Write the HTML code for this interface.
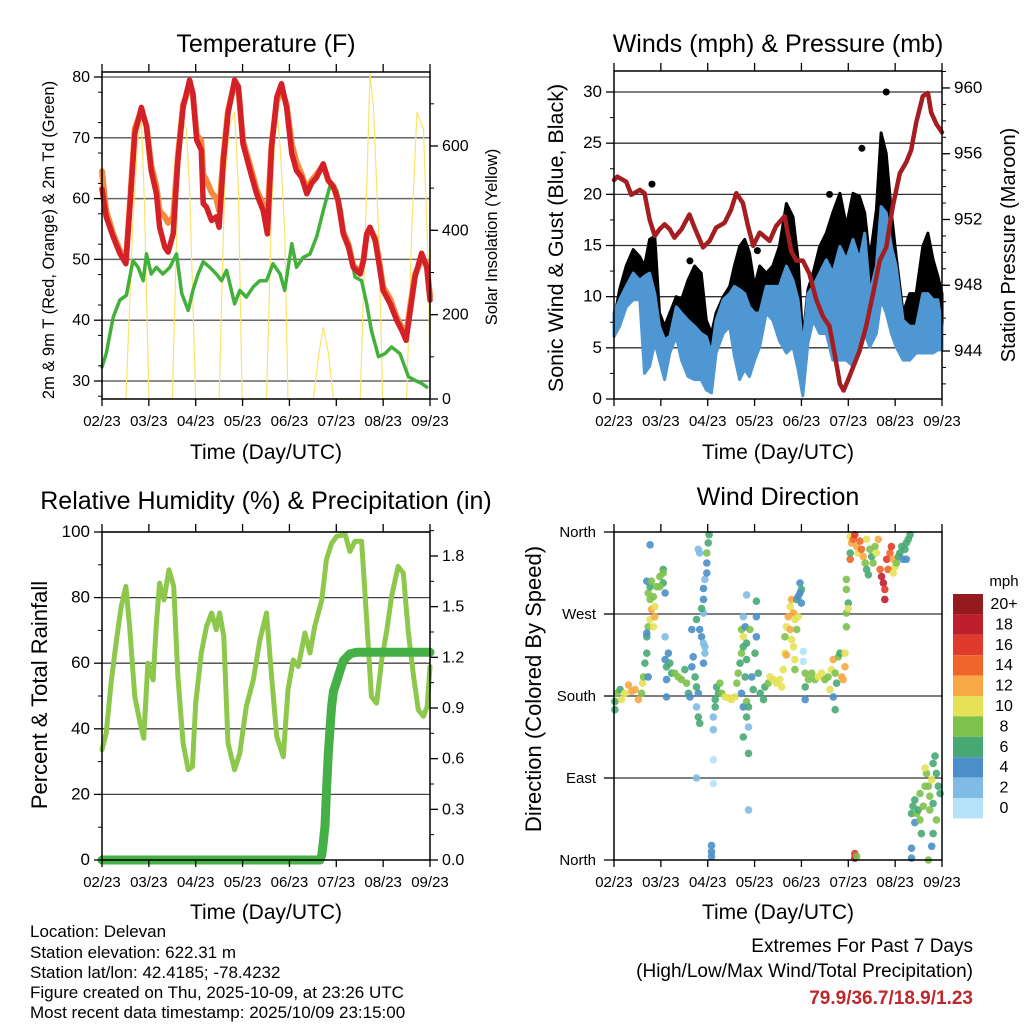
<!DOCTYPE html>
<html><head><meta charset="utf-8"><style>
html,body{margin:0;padding:0;background:#fff;}
svg{display:block;font-family:"Liberation Sans",sans-serif;}
</style></head><body>
<svg id="chart" width="1024" height="1024" viewBox="0 0 1024 1024" xmlns="http://www.w3.org/2000/svg">
<rect x="0" y="0" width="1024" height="1024" fill="#fff"/>
<g id="layer"></g>
<g font-size="25" text-anchor="middle" fill="#000">
<text x="266" y="52">Temperature (F)</text>
<text x="778" y="52">Winds (mph) &amp; Pressure (mb)</text>
<text x="266" y="509">Relative Humidity (%) &amp; Precipitation (in)</text>
<text x="778" y="505">Wind Direction</text>
</g>
<g font-size="21" text-anchor="middle">
<text x="266" y="459">Time (Day/UTC)</text>
<text x="778" y="459">Time (Day/UTC)</text>
<text x="266" y="919">Time (Day/UTC)</text>
<text x="778" y="919">Time (Day/UTC)</text>
<text transform="translate(54,240) rotate(-90)" font-size="16.5">2m &amp; 9m T (Red, Orange) &amp; 2m Td (Green)</text>
<text transform="translate(497,237) rotate(-90)" font-size="16.5">Solar Insolation (Yellow)</text>
<text transform="translate(563,238) rotate(-90)" font-size="21.5">Sonic Wind &amp; Gust (Blue, Black)</text>
<text transform="translate(1015,245) rotate(-90)" font-size="20">Station Pressure (Maroon)</text>
<text transform="translate(47,695) rotate(-90)" font-size="22">Percent &amp; Total Rainfall</text>
<text transform="translate(541,689) rotate(-90)" font-size="22">Direction (Colored By Speed)</text>
</g>
<g font-size="17">
<text x="30" y="937">Location: Delevan</text>
<text x="30" y="958">Station elevation: 622.31 m</text>
<text x="30" y="978">Station lat/lon: 42.4185; -78.4232</text>
<text x="30" y="998">Figure created on Thu, 2025-10-09, at 23:26 UTC</text>
<text x="30" y="1018">Most recent data timestamp: 2025/10/09 23:15:00</text>
</g>
<g text-anchor="end" font-size="19">
<text x="973" y="952">Extremes For Past 7 Days</text>
<text x="973" y="977">(High/Low/Max Wind/Total Precipitation)</text>
<text x="973" y="1004" fill="#c0272d" font-weight="bold">79.9/36.7/18.9/1.23</text>
</g>
</svg>
<script>
const xTickLabels=["02/23","03/23","04/23","05/23","06/23","07/23","08/23","09/23"];
const redTime=[0,0.09,0.24,0.38,0.51,0.59,0.70,0.84,0.95,1.05,1.16,1.23,1.34,1.41,1.52,1.62,1.73,1.87,1.94,2.02,2.12,2.16,2.23,2.34,2.44,2.50,2.59,2.69,2.83,2.91,3.01,3.16,3.30,3.44,3.53,3.62,3.73,3.83,3.94,4.05,4.15,4.26,4.37,4.47,4.58,4.72,4.83,4.94,5.04,5.15,5.26,5.36,5.51,5.58,5.65,5.72,5.83,5.90,6.00,6.15,6.29,6.40,6.49,6.57,6.68,6.82,6.93,7.0];
const redTemp=[61.6,57,53.7,51,49.3,58,70.7,75,71.8,64.6,60.8,55.3,52,51.2,54.2,66.3,75,79.5,77.3,69.6,68,59.2,58.6,56.4,57,55.3,66.3,74,79.5,78.4,69,64.6,60.8,58,54.2,68.5,76.7,78.9,75,67.4,64.6,63.5,60.8,62.5,63.5,65.7,63,61.9,59.7,54.2,52,48.7,47.6,49.8,54.2,55.3,53.1,49.8,44.9,42.7,40,38.3,36.7,41.1,47.1,51,48.7,43.3];
const orangeTemp=[64.5,58,54.2,51.5,49.8,58.5,71.5,74.5,72,65.5,62,58,57,56,57,67,75.5,78.5,77,70.5,69.5,64,63,61,60,58,67,74.5,79,78,69.5,65.5,61.5,59,57,69,76,78,75.5,69,66,64,61.5,63,64,65.5,63,62,59.5,54.5,52.5,49,48,50,54,55,53.5,50.5,45.5,43.5,40.5,38.8,37.5,42,47.5,50,49.5,44];
const dewTime=[0,0.09,0.24,0.38,0.52,0.66,0.77,0.88,0.95,1.05,1.16,1.30,1.45,1.59,1.70,1.84,1.94,2.05,2.16,2.30,2.44,2.55,2.66,2.83,2.94,3.08,3.23,3.37,3.51,3.65,3.80,3.90,4.05,4.15,4.29,4.44,4.58,4.72,4.86,5.01,5.11,5.19,5.29,5.40,5.54,5.65,5.75,5.90,6.04,6.18,6.36,6.54,6.68,6.82,6.93];
const dewTemp=[32.3,34.5,40.5,43.3,44.1,49.8,48.7,46.5,50.9,47.6,48.7,47.6,48.7,50.9,44.4,41.6,44.9,47.6,49.6,48.7,47.6,46.5,48.2,42.7,44.9,43.8,45.5,46.5,46.5,49.3,47.6,44.9,52.6,48.7,50.3,50.9,53.7,58,61.9,61.4,58,53.1,51.5,47.1,46.5,42.7,38.3,34,34.5,35.6,34.5,30.7,30.1,29.6,29];
const solarTime=[0,0.51,0.66,0.77,0.84,0.91,1.0,1.50,1.62,1.73,1.80,1.87,2.0,2.50,2.62,2.73,2.83,2.91,2.99,3.51,3.62,3.72,3.80,3.90,3.97,4.51,4.62,4.72,4.83,4.94,5.51,5.65,5.72,5.79,5.90,5.99,6.50,6.61,6.72,6.86,6.97,7.0];
const solarValue=[0,0,420,620,660,450,0,0,500,660,640,500,0,0,520,650,680,500,0,0,450,700,600,400,0,0,100,170,110,0,0,500,770,700,400,0,0,400,680,640,300,0];
const presTime=[0,0.07,0.26,0.37,0.55,0.65,0.76,0.87,0.97,1.08,1.19,1.29,1.44,1.61,1.72,1.90,2.04,2.18,2.36,2.50,2.61,2.75,2.86,2.97,3.11,3.32,3.46,3.64,3.78,3.89,4.03,4.17,4.32,4.46,4.60,4.71,4.82,4.90,4.99,5.10,5.24,5.38,5.53,5.67,5.81,5.95,6.10,6.24,6.34,6.45,6.59,6.70,6.77,6.88,7.0];
const presValue=[954.4,954.6,954.3,953.5,953.8,953.6,952,951,951.4,951.7,951.4,950.9,951.4,952.3,951.5,950.3,950.7,951.5,951.8,952.6,953.6,953,951.6,950.4,951.2,950.7,951.6,952.2,950.1,949.5,949.5,948.7,947.1,946.1,945.5,943.8,942,941.6,942.2,943,944,945.5,947.5,949.5,950.3,952.8,954.8,955.5,956.2,957.9,959.5,959.7,958.5,957.8,957.3];
const windTime=[0,0.12,0.26,0.41,0.55,0.65,0.76,0.87,0.97,1.08,1.19,1.33,1.44,1.58,1.72,1.86,1.97,2.08,2.18,2.33,2.47,2.57,2.68,2.79,2.89,3.00,3.11,3.25,3.39,3.53,3.68,3.82,3.93,4.03,4.14,4.25,4.39,4.53,4.67,4.82,4.96,5.10,5.24,5.35,5.46,5.60,5.70,5.81,5.92,6.02,6.17,6.31,6.45,6.59,6.70,6.81,6.91,7.0];
const windHigh=[8.4,9.7,11,12.3,11.6,12,12.3,10.3,7.1,5.8,6.1,9.0,8.4,7.7,7.1,6.4,6.1,4.5,7.7,9.7,10.3,11,10.7,10.3,9.0,8.4,8.4,11,11,11,13,11.6,9.7,5.1,10.3,11,12.3,13.6,12.3,14.9,13.6,15.6,13.6,16.2,10.3,13,18.8,18.2,14.9,13,7.7,7.1,7.1,10.3,10.3,9.7,9.7,7.1];
const windLow=[6.1,7.1,9.0,9.7,9.7,2.5,3.2,5.5,3.8,1.9,4.5,6.1,3.8,2.2,1.9,1.9,0.9,0.6,4.5,6.4,7.1,4.2,1.9,2.9,2.2,3.8,5.1,8.4,7.7,5.7,4.5,5.1,2.9,0.3,5.5,7.7,6.4,6.4,3.8,3.8,3.8,3.2,5.8,6.4,5.1,6.4,9.7,8.4,6.4,5.1,3.8,3.8,4.5,4.5,4.5,4.5,4.8,4.8];
const gustHigh=[7.7,10.7,13,14.6,13.9,13,15.6,15.9,8.4,7.1,8.4,10,9.7,11.6,13,12.3,7.7,6.4,8.4,10,11,13,14.9,15.6,14.3,11,13,12.3,13,14.9,19.1,17.8,13.6,5.8,10.7,12.3,14.9,16.2,18.2,20.1,16.9,20.1,19.8,18.2,13.6,18.5,26,24,18.2,14,8.4,10.3,10.3,14.9,16.2,13.6,12,10.3];
const gustOutlierTime=[0.81,4.60,5.29,5.81,1.62,3.06];
const gustOutlierValue=[21,20,24.5,30,13.5,14.5];
const rhTime=[0,0.09,0.20,0.31,0.41,0.51,0.59,0.70,0.80,0.89,0.98,1.09,1.16,1.23,1.32,1.43,1.53,1.62,1.73,1.84,1.93,2.00,2.12,2.23,2.34,2.44,2.51,2.60,2.69,2.83,2.94,3.08,3.23,3.37,3.51,3.62,3.73,3.87,3.97,4.08,4.19,4.33,4.44,4.54,4.69,4.79,4.90,5.01,5.19,5.29,5.40,5.54,5.65,5.75,5.86,5.97,6.08,6.18,6.32,6.43,6.54,6.65,6.75,6.86,6.94,7.0];
const rhValue=[33.6,38.7,54.9,67.1,77.3,83.4,71.2,49.8,42.7,37.1,60,54.9,72.2,84.4,79.3,88.5,83.4,55.9,35.6,27.5,28.5,47.8,63.1,71.2,75.3,70.2,75.3,68.2,35.6,27.5,32.6,46.8,54.9,67.1,75.3,55.9,37.6,31.5,51.9,61,59,69.2,63.1,71.2,79.3,91.6,96.6,98.7,99.2,94.1,97.2,97.2,73.2,49.8,47.8,61,70.2,80.4,89.5,87.5,69.2,55.9,45.8,43.8,46.8,59];
const precipTime=[0,4.65,4.69,4.72,4.76,4.79,4.83,4.86,4.90,4.94,5.01,5.08,5.15,5.29,5.43,7.0];
const precipValue=[0,0,0.03,0.1,0.2,0.4,0.63,0.75,0.91,1.0,1.06,1.12,1.18,1.22,1.23,1.23];
const speedBinLabels=["0","2","4","6","8","10","12","14","16","18","20+"];
const speedColors=["#b5e2f8","#80bbe5","#4a8fc8","#48a873","#7dc24b","#e6e157","#f8a845","#f0652a","#e03a2c","#bf1e2d","#941a1d"];
const windDirObs=[
[0.02,165,7],[0.02,174,6],[0.06,183,8],[0.13,187,7],[0.16,176,10],[0.23,183,10],[0.31,192,12],[0.38,185,12],[0.45,187,13],[0.52,176,12],[0.59,183,9],[0.61,194,10],[0.63,201,8],[0.66,216,6],[0.70,227,6],[0.70,245,6],[0.73,256,8],[0.77,264,10],[0.80,275,12],[0.84,256,11],[0.87,267,13],[0.77,286,8],[0.73,293,8],[0.77,300,6],[0.84,289,8],[0.91,300,8],[0.98,311,8],[1.05,319,7],[1.05,304,6],[1.09,293,5],[0.77,346,5],[0.73,201,4],[0.70,249,4],[0.70,306,5],[0.80,306,9],[0.87,278,11],[1.05,315,9],[0.98,300,9],
[1.09,245,3],[1.09,220,5],[1.12,212,6],[1.16,227,5],[1.19,216,7],[1.23,205,7],[1.12,198,5],[1.12,179,5],[1.30,205,8],[1.37,201,9],[1.44,198,8],[1.51,209,7],[1.55,194,8],[1.59,183,6],[1.62,179,5],[1.66,212,4],[1.66,253,5],[1.69,223,5],[1.73,201,7],[1.76,190,6],[1.76,168,3],[1.80,157,7],[1.83,150,6],[1.80,183,5],[1.76,264,7],[1.83,253,5],[1.87,245,4],[1.91,238,3],[1.94,234,2],[1.94,227,3],[1.91,216,4],[1.91,271,3],[1.91,286,5],[1.91,298,4],[1.94,308,2],[1.98,315,4],[1.98,326,5],[1.98,337,8],[2.01,348,6],[2.03,357,6],[1.80,341,2],[1.83,337,2],[1.87,276,7],[1.76,90,3],
[2.08,16,4],[2.08,9,4],[2.08,4,4],[2.12,157,3],[2.12,143,3],[2.12,110,1],[2.12,84,1],[2.16,168,6],[2.16,176,6],[2.19,190,7],[2.26,194,8],[2.23,183,6],[2.30,183,9],[2.37,179,10],[2.44,178,10],[2.51,176,10],[2.58,179,11],[2.62,194,8],[2.65,205,8],[2.69,216,7],[2.72,227,9],[2.76,234,6],[2.76,245,10],[2.72,253,8],[2.80,256,5],[2.83,238,7],[2.83,220,6],[2.80,201,6],[2.76,168,5],[2.83,174,8],[2.87,168,7],[2.83,157,6],[2.87,146,2],[2.76,135,6],[2.87,117,6],[2.90,253,9],[2.94,201,5],[2.97,187,6],[3.01,227,7],[3.04,245,4],[3.04,267,5],[3.04,284,6],[2.83,291,2],[2.76,267,2],[2.87,55,2],[2.72,183,4],
[3.08,205,7],[3.12,183,7],[3.19,176,6],[3.22,190,7],[3.29,194,8],[3.33,201,10],[3.40,198,10],[3.47,194,10],[3.54,198,10],[3.58,190,10],[3.61,209,10],[3.65,227,11],[3.65,245,9],[3.68,256,10],[3.72,267,12],[3.76,278,10],[3.79,286,12],[3.83,271,12],[3.86,264,11],[3.90,253,9],[3.93,267,10],[3.76,253,12],[3.79,242,11],[3.83,234,10],[3.86,220,10],[3.68,225,12],[3.90,286,6],[3.93,289,4],[3.97,304,4],[4.00,297,6],[4.00,282,4],[4.04,229,1],[4.04,218,1],[3.86,209,8],[3.97,293,4],
[4.08,205,8],[4.08,190,6],[4.08,176,4],[4.15,198,8],[4.22,205,8],[4.29,198,9],[4.36,201,10],[4.43,205,10],[4.50,198,9],[4.57,201,8],[4.61,187,10],[4.64,209,11],[4.68,220,12],[4.72,205,9],[4.75,194,6],[4.79,223,8],[4.82,227,7],[4.86,201,12],[4.89,198,12],[4.93,212,13],[4.93,227,11],[4.72,165,7],[4.96,256,8],[4.96,271,9],[5.00,282,7],[4.96,297,8],[4.96,308,8],[5.00,276,10],[4.68,179,4],
[5.04,355,11],[5.07,348,12],[5.11,352,14],[5.14,357,16],[5.18,344,13],[5.21,337,10],[5.25,350,14],[5.28,341,15],[5.32,333,12],[5.36,326,8],[5.39,319,7],[5.43,313,6],[5.39,352,11],[5.46,341,9],[5.50,333,7],[5.53,326,8],[5.57,344,9],[5.60,337,11],[5.64,352,13],[5.68,319,14],[5.71,311,18],[5.75,304,19],[5.78,297,17],[5.78,286,18],[5.82,330,16],[5.85,319,15],[5.89,337,14],[5.92,344,16],[5.96,330,13],[5.96,315,11],[6.00,322,10],[5.04,330,14],[5.14,7,16],[5.14,2,18],[5.18,4,9],[5.04,337,6],
[6.03,326,8],[6.07,333,7],[6.10,337,6],[6.14,344,6],[6.17,330,5],[6.21,341,7],[6.24,348,6],[6.28,352,6],[6.32,357,6],[6.24,330,4],[6.35,51,6],[6.38,59,6],[6.42,66,7],[6.42,41,5],[6.46,51,8],[6.49,55,7],[6.53,44,8],[6.56,29,6],[6.60,59,9],[6.64,81,8],[6.67,95,9],[6.64,101,10],[6.71,81,8],[6.74,70,9],[6.78,88,10],[6.81,106,6],[6.85,114,6],[6.88,95,7],[6.92,81,7],[6.96,73,6],[6.88,44,8],[6.81,29,6],[6.78,15,4],[6.71,0,8],[6.35,13,4],[6.35,2,4],[6.53,73,8],[6.74,55,9],[6.81,62,7]
];

const NS="http://www.w3.org/2000/svg";
const layer=document.getElementById('layer');
function mk(tag,parent){const e=document.createElementNS(NS,tag);(parent||layer).appendChild(e);return e;}
function xT(left,t){return left+t*(328/7);}
function yAxisFn(bottomPix,vBottom,pxPerUnit){return v=>bottomPix-(v-vBottom)*pxPerUnit;}
const yTemp=yAxisFn(381,30,6.08), ySolar=yAxisFn(399,0,0.4217);
const yWind=yAxisFn(399,0,10.233), yPres=yAxisFn(351,944,16.44);
const yRH=yAxisFn(860,0,3.28), yPrec=yAxisFn(860,0,168.9);
const yDir=yAxisFn(860,0,0.9111);

function polyline(times,vals,left,yf,color,w,name){
  const p=mk('polyline');
  p.setAttribute('points',times.map((t,i)=>xT(left,t).toFixed(1)+','+yf(vals[i]).toFixed(1)).join(' '));
  p.setAttribute('fill','none');p.setAttribute('stroke',color);p.setAttribute('stroke-width',w);
  p.setAttribute('stroke-linejoin','round');p.setAttribute('stroke-linecap','round');
  
  
  return p;
}
function band(times,lo,hi,left,yf,color,name){
  const p=mk('polygon');
  const a=times.map((t,i)=>xT(left,t).toFixed(1)+','+yf(hi[i]).toFixed(1));
  const b=times.map((t,i)=>xT(left,t).toFixed(1)+','+yf(lo[i]).toFixed(1)).reverse();
  p.setAttribute('points',a.concat(b).join(' '));
  p.setAttribute('fill',color);p.setAttribute('stroke',color);p.setAttribute('stroke-width','3');p.setAttribute('stroke-linejoin','round');
  
  
}
function hline(x0,x1,y,color,w){const l=mk('line');l.setAttribute('x1',x0);l.setAttribute('x2',x1);l.setAttribute('y1',y);l.setAttribute('y2',y);l.setAttribute('stroke',color);l.setAttribute('stroke-width',w);
  
  }
function seg(x1,y1,x2,y2,w){const l=mk('line');l.setAttribute('x1',x1);l.setAttribute('x2',x2);l.setAttribute('y1',y1);l.setAttribute('y2',y2);l.setAttribute('stroke','#000');l.setAttribute('stroke-width',w||1.3);
  
  }
function label(x,y,txt,anchor,size,name){const t=mk('text');t.setAttribute('x',x);t.setAttribute('y',y);t.setAttribute('text-anchor',anchor);t.setAttribute('font-size',size);t.textContent=txt;
  
  }
function frame(left,top,bottom){
  const r=mk('rect');r.setAttribute('x',left);r.setAttribute('y',top);r.setAttribute('width',328);r.setAttribute('height',bottom-top);r.setAttribute('fill','none');r.setAttribute('stroke','#000');r.setAttribute('stroke-width','1.5');
  
  
  for(let i=0;i<8;i++){const x=xT(left,i);seg(x,bottom,x,bottom+7);seg(x,top,x,top-8);
    label(x,bottom+27,xTickLabels[i],'middle',15,'x-tick-label');}
}
function yTicks(left,side,vals,yf,size,fmt,minorVals,name){
  const x=side==='l'?left:left+328,dir=side==='l'?-1:1;
  vals.forEach(v=>{const y=yf(v);seg(x,y,x+dir*8,y);label(x+dir*12,y+5,fmt(v),side==='l'?'end':'start',size,name);});
  (minorVals||[]).forEach(v=>{const y=yf(v);seg(x,y,x+dir*4,y,1);});
}
const range=(a,b,s)=>{const r=[];for(let v=a;v<=b+1e-9;v+=s)r.push(+v.toFixed(3));return r;};

// Panel 1
[30,40,50,60,70,80].forEach(v=>hline(102,430,yTemp(v),'#666',1.5));
polyline(solarTime,solarValue,102,ySolar,'#fbe36a',1.2,'solar-insolation-line');
polyline(dewTime,dewTemp,102,yTemp,'#44b03c',3.5,'dewpoint-line');
polyline(redTime,orangeTemp,102,yTemp,'#f58a3c',6,'temp-9m-line');
polyline(redTime,redTemp,102,yTemp,'#d42027',5.5,'temp-2m-line');
frame(102,72,399);
yTicks(102,'l',[30,40,50,60,70,80],yTemp,16,v=>v,range(27.5,80,5),'temp-y-tick-label');
yTicks(102,'r',[0,200,400,600],ySolar,16,v=>v,range(100,700,100),'solar-y-tick-label');

// Panel 2
[5,10,15,20,25,30].forEach(v=>hline(614,942,yWind(v),'#333',1.3));
band(windTime,windHigh,gustHigh,614,yWind,'#000','gust-band');
band(windTime,windLow,windHigh,614,yWind,'#4f97d3','sonic-wind-band');
gustOutlierTime.forEach((t,i)=>{const c=mk('circle');c.setAttribute('cx',xT(614,t));c.setAttribute('cy',yWind(gustOutlierValue[i]));c.setAttribute('r',3.5);c.setAttribute('fill','#000');
  
  });
polyline(presTime,presValue,614,yPres,'#a31d21',4.5,'pressure-line');
frame(614,71,399);
yTicks(614,'l',[0,5,10,15,20,25,30],yWind,17,v=>v,range(2.5,30,5),'wind-y-tick-label');
yTicks(614,'r',[944,948,952,956,960],yPres,17,v=>v,range(942,961,1),'pressure-y-tick-label');

// Panel 3
[20,40,60,80,100].forEach(v=>hline(102,430,yRH(v),'#444',1.3));
polyline(rhTime,rhValue,102,yRH,'#8dc84c',5,'relative-humidity-line');
polyline(precipTime,precipValue,102,yPrec,'#45b045',9,'precipitation-line');
frame(102,532,860);
yTicks(102,'l',[0,20,40,60,80,100],yRH,17,v=>v,range(10,90,20),'rh-y-tick-label');
yTicks(102,'r',[0,0.3,0.6,0.9,1.2,1.5,1.8],yPrec,16,v=>v.toFixed(1),range(0.15,1.95,0.3),'precip-y-tick-label');

// Panel 4
[90,180,270].forEach(v=>hline(614,942,yDir(v),'#333',1.3));
windDirObs.forEach(o=>{const c=mk('circle');
  c.setAttribute('cx',xT(614,o[0]).toFixed(1));c.setAttribute('cy',yDir(o[1]).toFixed(1));c.setAttribute('r',3.8);
  c.setAttribute('fill',speedColors[Math.min(10,Math.floor(o[2]/2))]);c.setAttribute('fill-opacity','0.9');
  
  });
frame(614,532,860);
const dirLabels=["North","East","South","West","North"];
[0,90,180,270,360].forEach((v,i)=>{const y=yDir(v);seg(614,y,604,y);label(596,y+5,dirLabels[i],'end',15,'direction-tick-label');});
// legend
label(1004,586,'mph','middle',15,'legend-unit');
speedColors.slice().reverse().forEach((c,i)=>{const r=mk('rect');r.setAttribute('x',953);r.setAttribute('y',594+i*20.4);r.setAttribute('width',30);r.setAttribute('height',20.4);r.setAttribute('fill',c);
  
  
  label(1004,594+i*20.4+15,speedBinLabels[10-i],'middle',16,'legend-label');});
</script>
</body></html>
